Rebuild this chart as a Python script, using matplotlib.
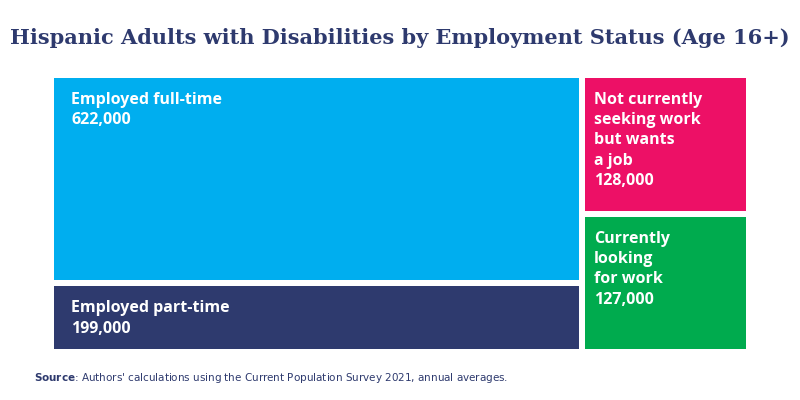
import matplotlib
matplotlib.use("Agg")
import matplotlib.pyplot as plt
from matplotlib.patches import Rectangle

labels = ["Employed full-time", "Employed part-time",
          "Not currently\nseeking work\nbut wants\na job", "Currently\nlooking\nfor work"]
values = [622000, 199000, 128000, 127000]
colors = ["#00AEEF", "#2E3A6E", "#ED1066", "#00AB4E"]

fig = plt.figure(figsize=(8, 4), dpi=100)
ax = fig.add_axes([54/800, 1-349/400, 692/800, 271/400])
W, H = 692.0, 271.0
ax.set_xlim(0, W); ax.set_ylim(H, 0); ax.axis("off")
gap = 6
total = sum(values)
left = values[0] + values[1]
lw = W * left / total
cols = [(0, lw, [0, 1]), (lw, W - lw, [2, 3])]
for x0, w, idx in cols:
    s = sum(values[i] for i in idx)
    y = 0
    for k, i in enumerate(idx):
        h = H * values[i] / s
        rx = x0 + (gap/2 if x0 > 0 else 0)
        rw = w - gap/2
        ry = y + (gap/2 if k > 0 else 0)
        rh = h - gap/2
        ax.add_patch(Rectangle((rx, ry), rw, rh, color=colors[i], lw=0))
        ax.text(rx + 17 if i < 2 else rx + 9, ry + 14, f"{labels[i]}\n{values[i]:,}",
                color="white", fontsize=11.5, fontweight="bold", va="top", ha="left",
                family="Open Sans", linespacing=1.35)
        y += h

fig.text(0.5, 1-38/400, "Hispanic Adults with Disabilities by Employment Status (Age 16+)",
         ha="center", va="center", fontsize=15, fontweight="bold", color="#2E3A6E",
         family="DejaVu Serif")
fig.text(34/800, 1-378/400, r"$\bf{Source}$: Authors' calculations using the Current Population Survey 2021, annual averages.",
         ha="left", va="center", fontsize=7.5, color="#2E3A6E")
fig.savefig("out.png", dpi=100)
